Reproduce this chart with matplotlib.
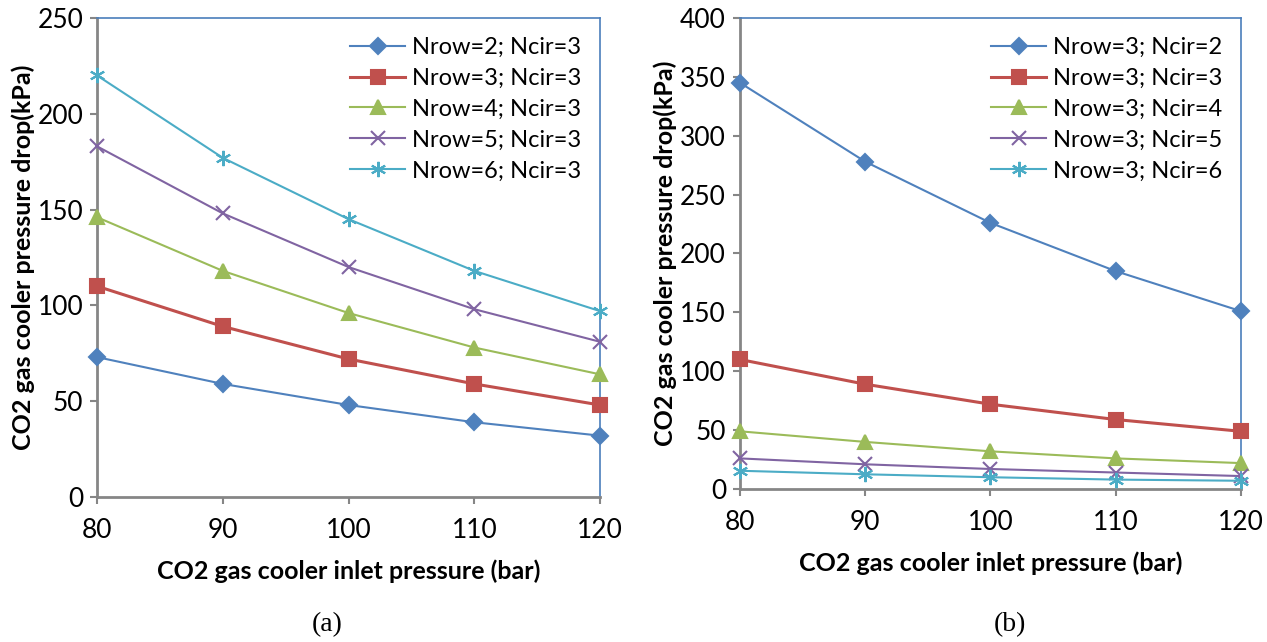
import matplotlib.pyplot as plt

plt.rcParams['font.family'] = ['Lato', 'DejaVu Sans']

pressure = [80, 90, 100, 110, 120]

# (a) varying number of rows, Ncir=3
labels_a = ['Nrow=2; Ncir=3', 'Nrow=3; Ncir=3', 'Nrow=4; Ncir=3', 'Nrow=5; Ncir=3', 'Nrow=6; Ncir=3']
nrow2 = [73, 59, 48, 39, 32]
nrow3 = [110, 89, 72, 59, 48]
nrow4 = [146, 118, 96, 78, 64]
nrow5 = [183, 148, 120, 98, 81]
nrow6 = [220, 177, 145, 118, 97]

# (b) Nrow=3, varying number of circuits
labels_b = ['Nrow=3; Ncir=2', 'Nrow=3; Ncir=3', 'Nrow=3; Ncir=4', 'Nrow=3; Ncir=5', 'Nrow=3; Ncir=6']
ncir2 = [345, 278, 226, 185, 151]
ncir3 = [110, 89, 72, 59, 49]
ncir4 = [49, 40, 32, 26, 22]
ncir5 = [26, 21, 17, 14, 11]
ncir6 = [15.5, 12.5, 10, 8, 7]

colors = ['#4F81BD', '#C0504D', '#9BBB59', '#8064A2', '#4BACC6']
markers = ['D', 's', '^', 'x', (6, 2, 0)]
msizes = [8, 10, 10, 10, 11]
lwidths = [1.5, 2.2, 1.5, 1.5, 1.5]

fig = plt.figure(figsize=(12.67, 6.42), dpi=100)
ax1 = fig.add_axes([0.0766, 0.2259, 0.397, 0.7461])
ax2 = fig.add_axes([0.584, 0.2383, 0.3955, 0.7337])


def draw(ax, series, labels, ymax, ystep):
    for i in range(len(series)):
        ax.plot(pressure, series[i], color=colors[i], marker=markers[i], markersize=msizes[i],
                linewidth=lwidths[i], markeredgewidth=1.5, label=labels[i], clip_on=False, zorder=3)
    ax.set_xlim(80, 120)
    ax.set_ylim(0, ymax)
    ax.set_xticks(pressure)
    ax.set_yticks(range(0, ymax + 1, ystep))
    ax.tick_params(labelsize=19, length=5, width=1.5, color='#868686', pad=5)
    ax.tick_params(axis='x', pad=10)
    for s in ['left', 'bottom']:
        ax.spines[s].set_color('#868686')
        ax.spines[s].set_linewidth(2)
    for s in ['top', 'right']:
        ax.spines[s].set_color('#4A7EBB')
        ax.spines[s].set_linewidth(1.2)
    ax.set_xlabel('CO2 gas cooler inlet pressure (bar)', fontsize=18, fontweight='bold', labelpad=12)
    ax.set_ylabel('CO2 gas cooler pressure drop(kPa)', fontsize=18, fontweight='bold', labelpad=2)
    ax.legend(loc='upper right', frameon=False, fontsize=17, handlelength=2.3,
              labelspacing=0.42, handletextpad=0.3, borderaxespad=0.4)


draw(ax1, [nrow2, nrow3, nrow4, nrow5, nrow6], labels_a, 250, 50)
draw(ax2, [ncir2, ncir3, ncir4, ncir5, ncir6], labels_b, 400, 50)

fig.text(0.258, 0.017, '(a)', fontsize=20, family='Liberation Serif', ha='center')
fig.text(0.797, 0.017, '(b)', fontsize=20, family='Liberation Serif', ha='center')

fig.savefig('out.png', dpi=100)
